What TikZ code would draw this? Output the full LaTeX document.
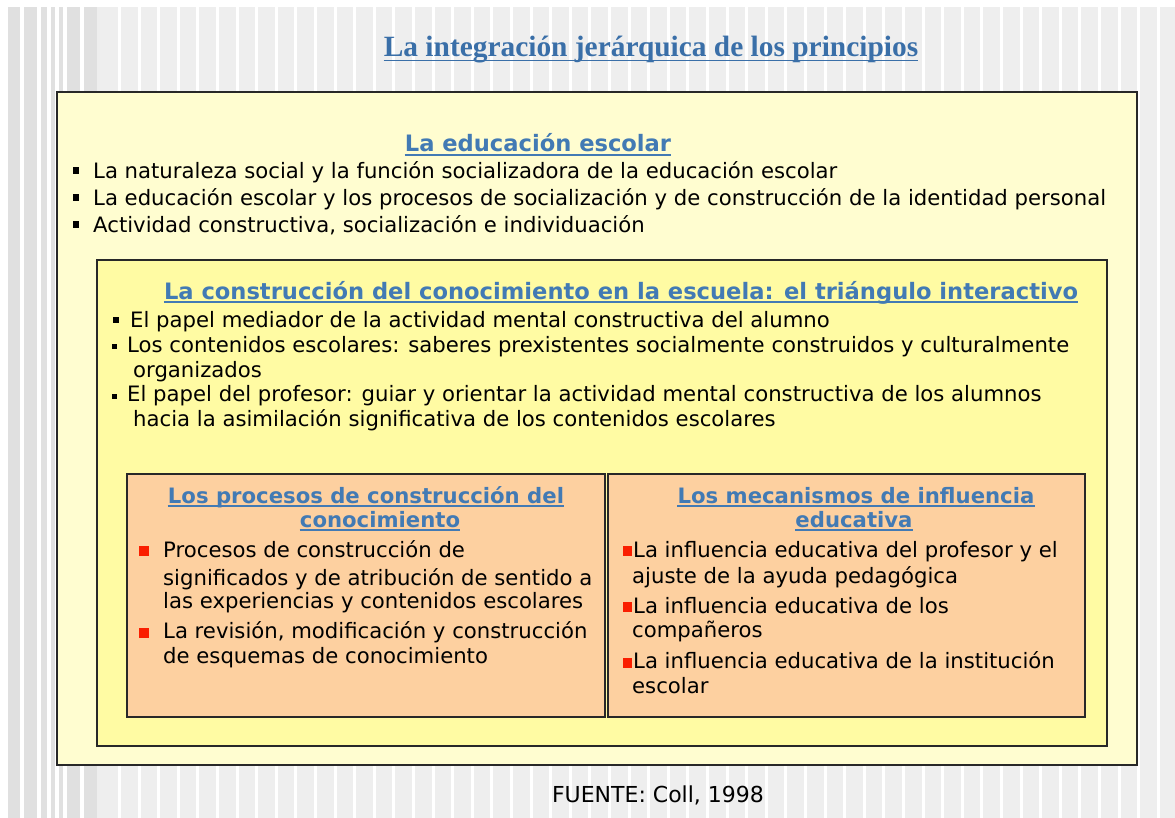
\documentclass[tikz,border=0pt]{standalone}
\usepackage{fontspec}
\setmainfont{DejaVu Sans}
\newfontfamily\titlefont{Liberation Serif}
\usetikzlibrary{calc}

\definecolor{titleblue}{RGB}{58,111,168}
\definecolor{headblue}{RGB}{66,122,180}
\definecolor{paleyellow}{RGB}{255,253,208}
\definecolor{brightyellow}{RGB}{255,251,163}
\definecolor{peach}{RGB}{253,208,160}
\definecolor{bulletred}{RGB}{250,30,0}
\definecolor{stripegray}{RGB}{238,238,238}
\definecolor{bandgray}{RGB}{224,224,224}
\definecolor{framegray}{RGB}{40,40,40}

\tikzset{
  body/.style={anchor=base west, inner sep=0pt, font=\fontsize{21.2}{25}\selectfont},
  heading/.style={anchor=base, inner sep=0pt, text=headblue, font=\fontsize{22.6}{26}\selectfont\bfseries},
  subheading/.style={heading, font=\fontsize{21.2}{25}\selectfont\bfseries},
  headline/.style={draw=headblue, line width=1.2pt},
  panel/.style={draw=framegray, line width=1.5pt},
}

\begin{document}
\begin{tikzpicture}[x=1pt,y=1pt,yscale=-1]
    \useasboundingbox (0,0) rectangle (1175,818);

    %Shape: background stripes
    \fill[stripegray] (8,7) rectangle (1175,818);
    \fill[bandgray] (8,7) rectangle (97,818);
    \foreach \sx in {20,37,47,55,63,80} \fill[white] (\sx,7) rectangle ++(4,811);
    \foreach \sx in {118,137.6,...,1170} \fill[white] (\sx,7) rectangle ++(3,811);

    %Shape: Rectangle [outer frame]
    \draw[panel, fill=paleyellow] (57,92) rectangle (1137,765);
    %Shape: Rectangle [inner frame]
    \draw[panel, fill=brightyellow] (97,260) rectangle (1107,746);
    %Shape: Rectangle [left panel]
    \draw[panel, fill=peach] (127,474) rectangle (605,717);
    %Shape: Rectangle [right panel]
    \draw[panel, fill=peach] (608,474) rectangle (1085,717);

    % Text Node
    \draw (651,56.7) node (title) [anchor=base, inner sep=0pt, text=titleblue, font=\titlefont\fontsize{29.4}{33}\selectfont\bfseries] {La integración jerárquica de los principios};
    \draw[draw=titleblue, line width=1.5pt] ($(title.base west)+(0,4)$) -- ($(title.base east)+(0,4)$);

    % Text Node
    \draw (538,152) node (hEdu) [heading] {La educación escolar};
    \draw[headline] ($(hEdu.base west)+(0,3)$) -- ($(hEdu.base east)+(0,3)$);

    %Bullets
    \fill (73,167) rectangle (79,174);
    \fill (73,194) rectangle (79,201);
    \fill (73,221) rectangle (79,228);
    % Text Node
    \draw (93,179) node (edu1) [body] {La naturaleza social y la función socializadora de la educación escolar};
    \draw (93,206) node (edu2) [body] {La educación escolar y los procesos de socialización y de construcción de la identidad personal};
    \draw (93,233) node (edu3) [body] {Actividad constructiva, socialización e individuación};

    % Text Node
    \draw (621,299) node (hTri) [heading] {La construcción del conocimiento en la escuela: el triángulo interactivo};
    \draw[headline] ($(hTri.base west)+(0,3)$) -- ($(hTri.base east)+(0,3)$);

    %Bullets
    \fill (113,317) rectangle (119,323);
    \fill (112,344) rectangle (117,349);
    \fill (112,394) rectangle (117,399);
    % Text Node
    \draw (130,327) node (tri1) [body] {El papel mediador de la actividad mental constructiva del alumno};
    \draw (127,352) node (tri2) [body] {Los contenidos escolares: saberes prexistentes socialmente construidos y culturalmente};
    \draw (133,377) node (tri2b) [body] {organizados};
    \draw (127,401) node (tri3) [body] {El papel del profesor: guiar y orientar la actividad mental constructiva de los alumnos};
    \draw (133,426) node (tri3b) [body] {hacia la asimilación significativa de los contenidos escolares};

    % Text Node
    \draw (366,503) node (hProc) [subheading] {Los procesos de construcción del};
    \draw (380,527) node (hProcb) [subheading] {conocimiento};
    \draw[headline] ($(hProc.base west)+(0,3)$) -- ($(hProc.base east)+(0,3)$);
    \draw[headline] ($(hProcb.base west)+(0,3)$) -- ($(hProcb.base east)+(0,3)$);

    %Bullets
    \fill[bulletred] (139,546) rectangle (149,556);
    \fill[bulletred] (139,628) rectangle (149,638);
    % Text Node
    \draw (163,557) node (proc1) [body] {Procesos de construcción de};
    \draw (163,585) node (proc1b) [body] {significados y de atribución de sentido a};
    \draw (163,608) node (proc1c) [body] {las experiencias y contenidos escolares};
    \draw (163,638) node (proc2) [body] {La revisión, modificación y construcción};
    \draw (163,663) node (proc2b) [body] {de esquemas de conocimiento};

    % Text Node
    \draw (856,503) node (hMec) [subheading] {Los mecanismos de influencia};
    \draw (854,527) node (hMecb) [subheading] {educativa};
    \draw[headline] ($(hMec.base west)+(0,3)$) -- ($(hMec.base east)+(0,3)$);
    \draw[headline] ($(hMecb.base west)+(0,3)$) -- ($(hMecb.base east)+(0,3)$);

    %Bullets
    \fill[bulletred] (623,546) rectangle (632,556);
    \fill[bulletred] (623,602) rectangle (632,612);
    \fill[bulletred] (623,658) rectangle (632,668);
    % Text Node
    \draw (633,557) node (mec1) [body] {La influencia educativa del profesor y el};
    \draw (632,583) node (mec1b) [body] {ajuste de la ayuda pedagógica};
    \draw (633,613) node (mec2) [body] {La influencia educativa de los};
    \draw (632,637) node (mec2b) [body] {compañeros};
    \draw (633,668) node (mec3) [body] {La influencia educativa de la institución};
    \draw (632,693) node (mec3b) [body] {escolar};

    % Text Node
    \draw (658,802) node (source) [anchor=base, inner sep=0pt, font=\fontsize{22}{26}\selectfont] {FUENTE: Coll, 1998};

\end{tikzpicture}
\end{document}
